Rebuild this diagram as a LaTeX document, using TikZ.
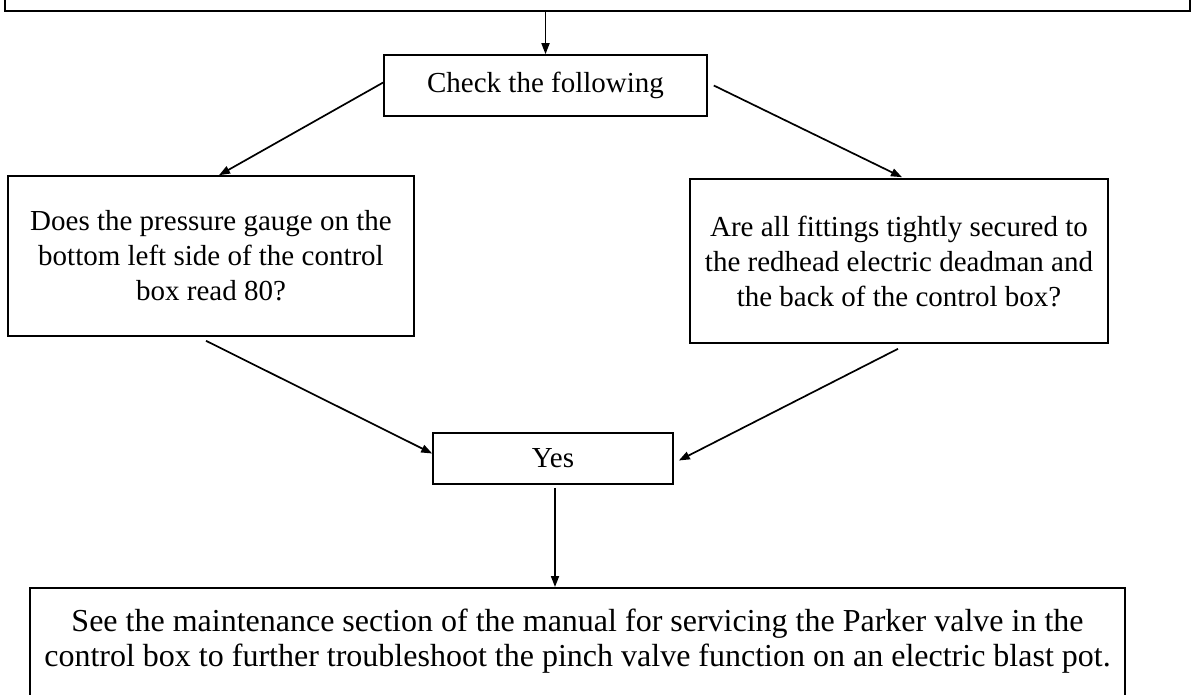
\documentclass[tikz,border=0pt]{standalone}
\usepackage{fontspec}
\setmainfont{Liberation Serif}
\usetikzlibrary{arrows.meta,calc}
\tikzset{
  box/.style={draw=black, line width=1.6pt, rectangle, align=center, inner sep=0pt,
    font=\fontsize{29}{35}\selectfont},
  conn/.style={draw=black, line width=1.7pt, -{Triangle[length=11pt,width=8pt]}},
}
\begin{document}
\begin{tikzpicture}[x=1pt,y=-1pt]
\useasboundingbox (0,0) rectangle (1193,694);
\clip (0,0) rectangle (1193,694);
\node[box, anchor=south, minimum width=1185, minimum height=60] (top) at (597.5,12) {};
\node[box, minimum width=323, minimum height=61] (check) at (545.5,85.5) {Check the following};
\node[box, minimum width=406, minimum height=160] (left) at (211,256) {Does the pressure gauge on the\\bottom left side of the control\\box read 80?};
\node[box, minimum width=418, minimum height=164] (right) at (899,261) {Are all fittings tightly secured to\\the redhead electric deadman and\\the back of the control box?};
\node[box, minimum width=240, minimum height=51] (yes) at (553,458.5) {Yes};
\node[box, anchor=north, minimum width=1095, inner ysep=21pt, text depth=45pt,
  font=\fontsize{32}{35}\selectfont] (bottom) at (577.5,587) {See the maintenance section of the manual for servicing the Parker valve in the\\control box to further troubleshoot the pinch valve function on an electric blast pot.};
\coordinate (ys) at ($(yes.south)+(2,3)$);
\draw[conn] (check.north |- top.south) -- (check.north);
\draw[conn] ($(check.west)+(0,-3)$) -- ($(left.north)+(8,0)$);
\draw[conn] ($(check.east)+(6,0)$) -- ($(right.north)+(3,-1)$);
\draw[conn] ($(left.south)+(-5,4)$) -- ($(yes.west)+(0,-5)$);
\draw[conn] ($(right.south)+(-1,5)$) -- ($(yes.east)+(5,2)$);
\draw[conn] (ys) -- (ys |- bottom.north);
\end{tikzpicture}
\end{document}
